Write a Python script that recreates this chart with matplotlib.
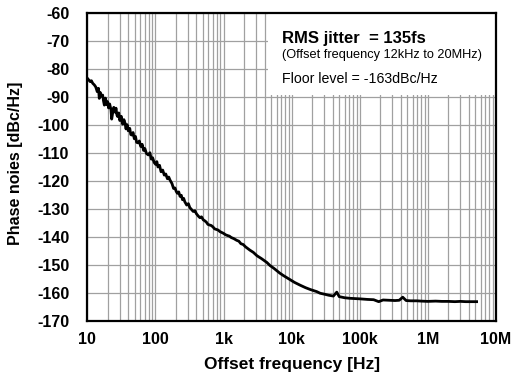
import numpy as np
import matplotlib
matplotlib.use("Agg")
import matplotlib.pyplot as plt
from matplotlib.patches import Rectangle
from matplotlib.ticker import FixedLocator, LogLocator, NullFormatter

plt.rcParams['font.family'] = ['Liberation Sans', 'DejaVu Sans']
plt.rcParams['axes.unicode_minus'] = False

# offset frequency [Hz] and phase noise [dBc/Hz]
freq = [10, 10.5, 11, 11.5, 12, 12.7, 13.3, 14, 14.6, 15, 15.5, 16, 16.8, 17.3,
        17.8, 18.5, 19.2, 19.9, 20.5, 21.3, 22.3, 22.8, 23.5, 24.5, 25.5, 26.4,
        27.2, 27.9, 29, 30, 31.5, 33, 34.5, 35.8, 37, 38.5, 40, 42, 43.5, 45, 47,
        49, 51, 53, 56, 58, 61, 64, 67, 70, 74, 78.7, 83, 87, 91, 96, 101, 105,
        109, 115, 121, 128, 135, 142, 150, 157, 164, 175, 185, 194, 202, 210, 220,
        230, 240, 250, 260, 270, 288, 305, 320, 340, 360, 380, 400, 425, 450,
        475, 505, 530, 560, 590, 620, 660, 700, 740, 780, 830, 889, 940, 1000,
        1070, 1150, 1220, 1300, 1420, 1564, 1680, 1800, 1950, 2100, 2440, 2742,
        3100, 3600, 4330, 4819, 5500, 6700, 7600, 9000, 11000, 13300, 16000,
        19000, 23300, 26300, 30000, 35000, 41000, 46000, 50000, 60000, 72000,
        85000, 101000, 130000, 160000, 190000, 220000, 270000, 330000, 380000,
        428000, 480000, 560000, 687000, 800000, 1e6, 1.3e6, 1.6e6, 2e6, 2.5e6,
        3e6, 3.6e6, 4.3e6, 5.2e6]
noise = [-83.4, -84.0, -84.6, -84.3, -85.2, -85.8, -86.5, -88.2, -87.0, -90.6,
         -88.5, -89.8, -89.4, -91.5, -93.0, -90.5, -92.8, -91.8, -94.0, -92.6,
         -94.7, -98.0, -96.0, -93.8, -95.5, -94.1, -96.5, -97.1, -95.8, -98.5,
         -97.0, -99.8, -98.2, -99.4, -101.5, -100.0, -102.2, -101.3, -103.5,
         -103.7, -102.8, -105.0, -104.2, -106.3, -106.5, -105.8, -107.8, -107.0,
         -109.2, -108.5, -110.3, -110.8, -110.0, -112.3, -111.8, -113.5, -114.2,
         -113.2, -115.1, -114.5, -116.8, -116.2, -118.0, -117.6, -119.3, -118.7,
         -119.8, -121.0, -122.8, -122.6, -123.8, -124.5, -124.0, -125.6, -125.2,
         -126.8, -126.3, -127.5, -128.7, -128.2, -129.6, -130.3, -131.0, -130.7,
         -131.8, -132.6, -133.2, -132.9, -134.0, -134.3, -134.8, -135.6, -135.8,
         -136.0, -136.5, -137.2, -137.4, -137.6, -138.2, -138.5, -138.8, -139.3,
         -139.6, -139.8, -140.3, -140.7, -141.3, -141.6, -142.5, -142.8, -143.6,
         -144.8, -145.6, -146.8, -147.8, -149.2, -150.3, -151.3, -153.0, -153.9,
         -155.0, -156.3, -157.3, -158.2, -158.9, -159.6, -160.2, -160.5, -160.9,
         -161.2, -159.8, -161.4, -161.8, -162.0, -162.1, -162.2, -162.4, -162.5,
         -163.2, -162.6, -162.7, -162.8, -162.7, -161.6, -162.8, -162.9, -162.9,
         -163.0, -163.1, -163.0, -163.1, -163.1, -163.2, -163.1, -163.2, -163.2,
         -163.2]

xticks = [10, 100, 1e3, 1e4, 1e5, 1e6, 1e7]
xticklabels = ['10', '100', '1k', '10k', '100k', '1M', '10M']
yticks = list(range(-170, -50, 10))

fig = plt.figure(figsize=(5.15, 3.85), dpi=100)
ax = fig.add_axes([0.1695, 0.167, 0.7935, 0.8])

ax.plot(freq, noise, color='black', lw=2.0, zorder=3)

ax.set_xscale('log')
ax.set_xlim(10, 1e7)
ax.set_ylim(-170, -60)
ax.xaxis.set_major_locator(FixedLocator(xticks))
ax.set_xticklabels(xticklabels)
ax.xaxis.set_minor_locator(LogLocator(base=10, subs=np.arange(2, 10)))
ax.xaxis.set_minor_formatter(NullFormatter())
ax.set_yticks(yticks)

ax.grid(True, which='both', axis='x', color='#a0a0a0', lw=0.9)
ax.grid(True, which='major', axis='y', color='#a0a0a0', lw=0.9)
ax.set_axisbelow(True)

ax.tick_params(which='both', length=0)
ax.tick_params(axis='y', pad=13, labelsize=11.5)
ax.tick_params(axis='x', pad=8, labelsize=11.5)
for lab in ax.get_xticklabels() + ax.get_yticklabels():
    lab.set_fontweight('bold')

for sp in ax.spines.values():
    sp.set_linewidth(1.6)
    sp.set_zorder(5)

ax.set_xlabel('Offset frequency [Hz]', fontsize=12.5, fontweight='bold')
ax.set_ylabel('Phase noies [dBc/Hz]', fontsize=11.5, fontweight='bold')
ax.xaxis.set_label_coords(0.5, -0.118)
ax.yaxis.set_label_coords(-0.157, 0.51)

# white text box in the upper right
ax.add_patch(Rectangle((0.442, 0.733), 0.56, 0.27, transform=ax.transAxes,
                       facecolor='white', edgecolor='none', zorder=2))
ax.text(0.476, 0.903, 'RMS jitter  = 135fs', transform=ax.transAxes,
        fontsize=12, fontweight='bold', va='baseline', zorder=4)
ax.text(0.476, 0.854, '(Offset frequency 12kHz to 20MHz)', transform=ax.transAxes,
        fontsize=9.2, va='baseline', zorder=4)
ax.text(0.476, 0.772, 'Floor level = -163dBc/Hz', transform=ax.transAxes,
        fontsize=10.2, va='baseline', zorder=4)

fig.savefig('out.png', dpi=100)
